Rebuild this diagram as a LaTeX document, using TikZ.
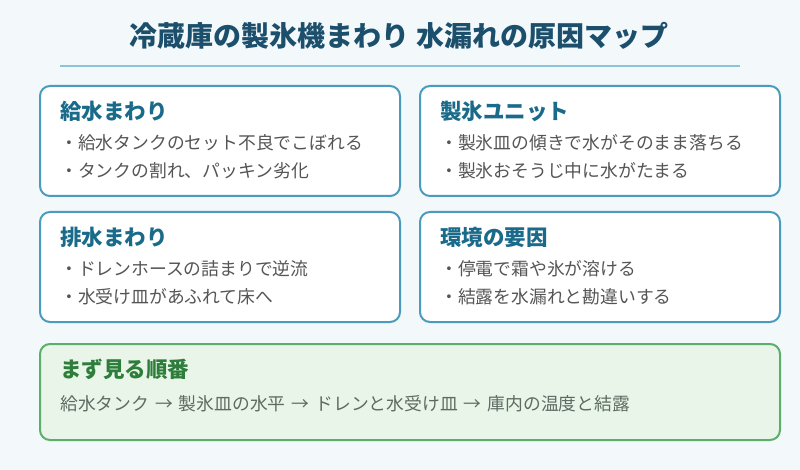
\documentclass[tikz,border=0pt]{standalone}
\usepackage{fontspec}
\setmainfont{Noto Sans CJK JP}
\definecolor{bgc}{HTML}{F3F8FB}
\definecolor{titlec}{HTML}{1B4F6B}
\definecolor{rulec}{HTML}{8CC3D9}
\definecolor{boxborder}{HTML}{4A9BBD}
\definecolor{boxtitle}{HTML}{1A6A8A}
\definecolor{itemc}{HTML}{555555}
\definecolor{greenfill}{HTML}{E9F5E9}
\definecolor{greenborder}{HTML}{5CAE6B}
\definecolor{greentitle}{HTML}{2E7D3A}
\definecolor{seqc}{HTML}{5E6B62}
\newcommand{\seqarrow}{\hspace{6pt}→\hspace{6pt}}
\begin{document}
\begin{tikzpicture}[x=1pt,y=-1pt,
  cardbox/.style={draw=boxborder, line width=2pt, fill=white, rounded corners=10pt, minimum width=360pt, minimum height=110pt, inner sep=0pt},
  greenbox/.style={draw=greenborder, line width=2pt, fill=greenfill, rounded corners=10pt, minimum width=740pt, minimum height=96pt, inner sep=0pt},
  cardtitle/.style={anchor=west, inner sep=0pt, text=boxtitle, font=\fontsize{21.5}{26}\selectfont\bfseries},
  carditem/.style={anchor=west, inner sep=0pt, text=itemc, font=\fontsize{17.8}{21}\selectfont},
  ]
\fill[bgc] (0,0) rectangle (800,470);
\useasboundingbox (0,0) rectangle (800,470);
\node[inner sep=0pt, text=titlec, font=\fontsize{28}{32}\selectfont\bfseries] (title) at (399,36) {冷蔵庫の製氷機まわり 水漏れの原因マップ};
\coordinate (rl) at (60,66);
\coordinate (rr) at (740,66);
\draw[rulec, line width=1.5pt] (rl) -- (rr);

\node[cardbox] (b1) at (220,141) {};
\node[cardbox] (b2) at (600,141) {};
\node[cardbox] (b3) at (220,267) {};
\node[cardbox] (b4) at (600,267) {};
\node[greenbox] (b5) at (410,392) {};

\node[cardtitle] (t1) at (60,111) {給水まわり};
\node[carditem] (i11) at (60,143) {・給水タンクのセット不良でこぼれる};
\node[carditem] (i12) at (60,171) {・タンクの割れ、パッキン劣化};

\node[cardtitle] (t2) at (440,111) {製氷ユニット};
\node[carditem] (i21) at (440,143) {・製氷皿の傾きで水がそのまま落ちる};
\node[carditem] (i22) at (440,171) {・製氷おそうじ中に水がたまる};

\node[cardtitle] (t3) at (60,237) {排水まわり};
\node[carditem] (i31) at (60,269) {・ドレンホースの詰まりで逆流};
\node[carditem] (i32) at (60,297) {・水受け皿があふれて床へ};

\node[cardtitle] (t4) at (440,237) {環境の要因};
\node[carditem] (i41) at (440,269) {・停電で霜や氷が溶ける};
\node[carditem] (i42) at (440,297) {・結露を水漏れと勘違いする};

\node[cardtitle, text=greentitle] (t5) at (60,369) {まず見る順番};
\node[carditem, text=seqc] (s5) at (60,404) {給水タンク\seqarrow 製氷皿の水平\seqarrow ドレンと水受け皿\seqarrow 庫内の温度と結露};
\end{tikzpicture}
\end{document}
